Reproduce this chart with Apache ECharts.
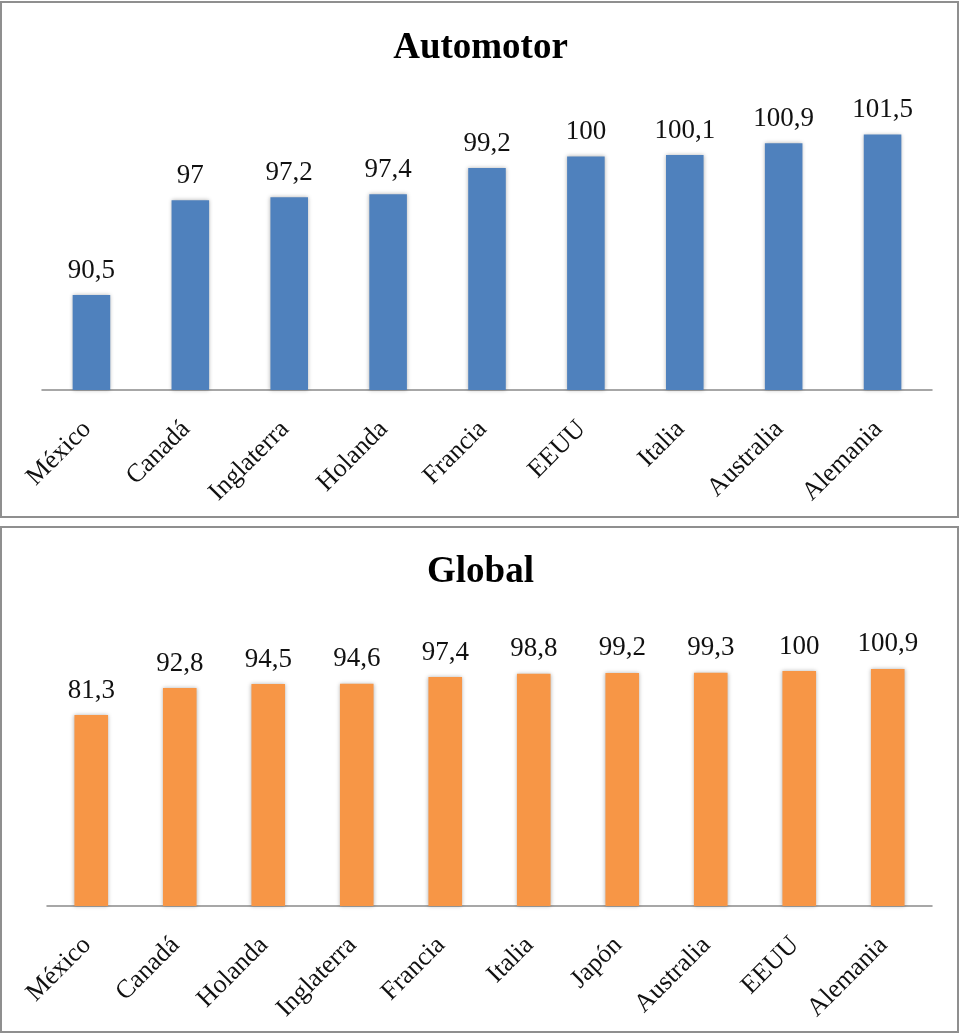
<!DOCTYPE html>
<html>
<head>
<meta charset="utf-8">
<script src="https://cdn.jsdelivr.net/npm/echarts@6/dist/echarts.min.js"></script>
<style>
  html, body { margin: 0; padding: 0; background: #fff; }
  #main { width: 961px; height: 1036px; }
</style>
</head>
<body>
<div id="main"></div>
<script>
// Automotor
const autoCategories = ['México', 'Canadá', 'Inglaterra', 'Holanda', 'Francia', 'EEUU', 'Italia', 'Australia', 'Alemania']
const autoValues = [90.5, 97, 97.2, 97.4, 99.2, 100, 100.1, 100.9, 101.5]

// Global
const globalCategories = ['México', 'Canadá', 'Holanda', 'Inglaterra', 'Francia', 'Italia', 'Japón', 'Australia', 'EEUU', 'Alemania']
const globalValues = [81.3, 92.8, 94.5, 94.6, 97.4, 98.8, 99.2, 99.3, 100, 100.9]

const serif = "'Liberation Serif', 'Times New Roman', serif"

const chart = echarts.init(document.getElementById('main'))

// formato con coma decimal
const fmt = (p) => String(p.value).replace('.', ',')

const xAxisBase = (gridIndex, data) => ({
  type: 'category',
  gridIndex: gridIndex,
  data: data,
  axisTick: { show: false },
  axisLine: { lineStyle: { color: '#8a8a8a', width: 1.5 } },
  axisLabel: {
    rotate: 45,
    margin: 31,
    interval: 0,
    padding: [0, 6, 0, 0],
    fontFamily: serif,
    fontSize: 26,
    color: '#111'
  }
})

const barSeries = (idx, values, color) => ({
  type: 'bar',
  xAxisIndex: idx,
  yAxisIndex: idx,
  data: values,
  barWidth: '38%',
  itemStyle: {
    color: color,
    shadowBlur: 4,
    shadowColor: 'rgba(0,0,0,0.3)'
  },
  label: {
    show: true,
    position: 'top',
    distance: 11,
    formatter: fmt,
    fontFamily: serif,
    fontSize: 27,
    color: '#111'
  }
})

const option = {
  animation: false,
  graphic: [
    { type: 'rect', shape: { x: 1, y: 2, width: 957, height: 515 }, style: { fill: 'none', stroke: '#8f8f8f', lineWidth: 2 } },
    { type: 'rect', shape: { x: 1, y: 527, width: 957, height: 505 }, style: { fill: 'none', stroke: '#8f8f8f', lineWidth: 2 } }
  ],
  title: [
    { text: 'Automotor', left: 'center', top: 25, textStyle: { fontFamily: serif, fontSize: 37, fontWeight: 'bold', color: '#000' } },
    { text: 'Global', left: 'center', top: 549, textStyle: { fontFamily: serif, fontSize: 37, fontWeight: 'bold', color: '#000' } }
  ],
  grid: [
    { left: 42, width: 890, top: 98, height: 292 },
    { left: 47, width: 885, top: 624, height: 282 }
  ],
  xAxis: [
    xAxisBase(0, autoCategories),
    xAxisBase(1, globalCategories)
  ],
  yAxis: [
    { type: 'value', gridIndex: 0, min: 84, max: 104, show: false },
    { type: 'value', gridIndex: 1, min: 0, max: 120, show: false }
  ],
  series: [
    barSeries(0, autoValues, '#4F81BD'),
    barSeries(1, globalValues, '#F79646')
  ]
}

chart.setOption(option)
</script>
</body>
</html>
